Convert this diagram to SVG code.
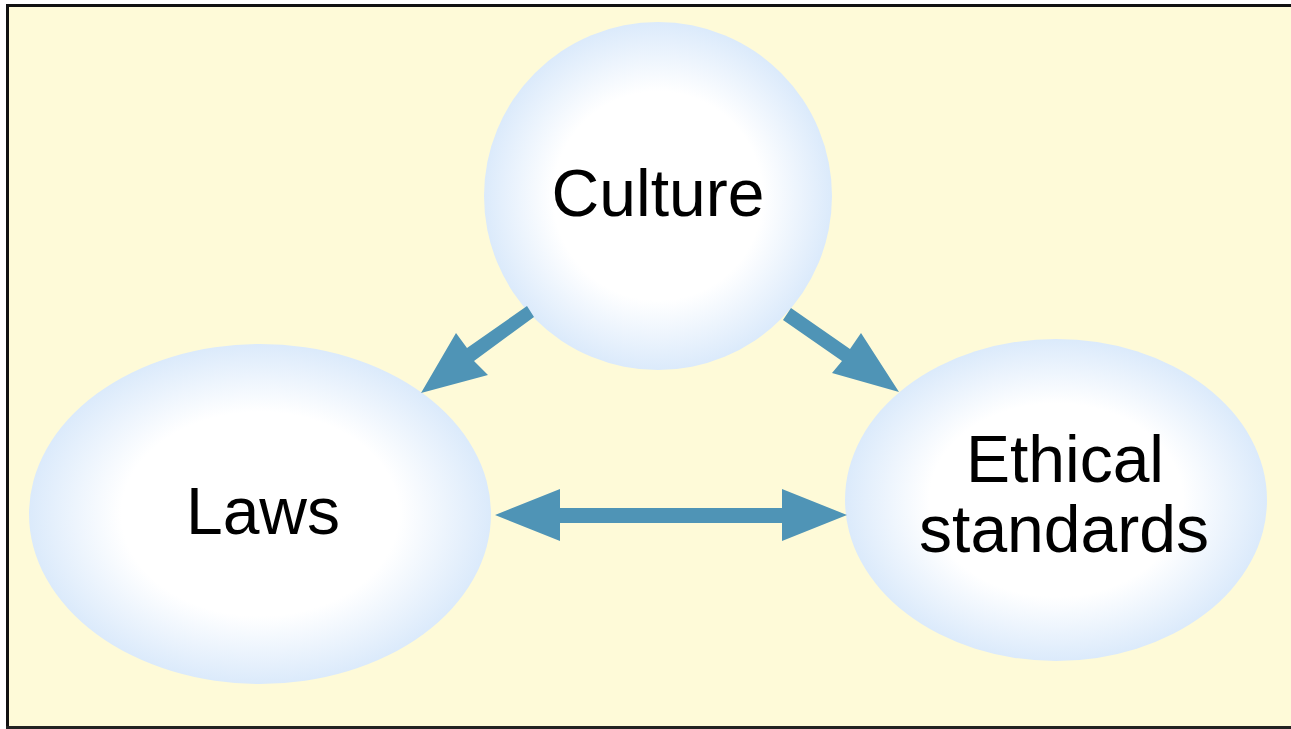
<svg xmlns="http://www.w3.org/2000/svg" width="1291" height="729" viewBox="0 0 1291 729">
  <defs>
    <radialGradient id="bub" cx="0.5" cy="0.5" r="0.5">
      <stop offset="0" stop-color="#ffffff"/>
      <stop offset="0.6" stop-color="#ffffff"/>
      <stop offset="1" stop-color="#dbeafb"/>
    </radialGradient>
    <style>
      .node { fill: url(#bub); }
      .lbl { font-family: "Liberation Sans", Arial, sans-serif; font-size: 66px; fill: #000; text-anchor: middle; }
      .arr { fill: #4f94b6; }
    </style>
  </defs>
  <rect x="0" y="0" width="1291" height="729" fill="#ffffff"/>
  <rect x="7" y="5" width="1284" height="722" fill="#fefad8"/>
  <rect x="6" y="4" width="3" height="725" fill="#111"/>
  <rect x="6" y="4" width="1285" height="3" fill="#111"/>
  <rect x="6" y="726" width="1285" height="3" fill="#222"/>

  <g id="culture">
    <circle class="node" cx="658" cy="196" r="174"/>
    <text class="lbl" x="658" y="216">Culture</text>
  </g>
  <g id="laws">
    <ellipse class="node" cx="260" cy="514" rx="231" ry="170"/>
    <text class="lbl" x="263" y="534">Laws</text>
  </g>
  <g id="ethical">
    <ellipse class="node" cx="1056" cy="500" rx="211" ry="161"/>
    <text class="lbl" x="1065" y="482">Ethical</text>
    <text class="lbl" x="1064" y="552">standards</text>
  </g>

  <g id="connectors">
    <polygon class="arr" points="527,306 534,317 474,361 488,375 421,393 456,333 467,348"/>
    <polygon class="arr" points="783,320 791,308 850,349 861,333 899,392 832,373 842,361"/>
    <polygon class="arr" points="495,515 560,489 560,508 782,508 782,489 847,515 782,541 782,523 560,523 560,541"/>
  </g>
</svg>
